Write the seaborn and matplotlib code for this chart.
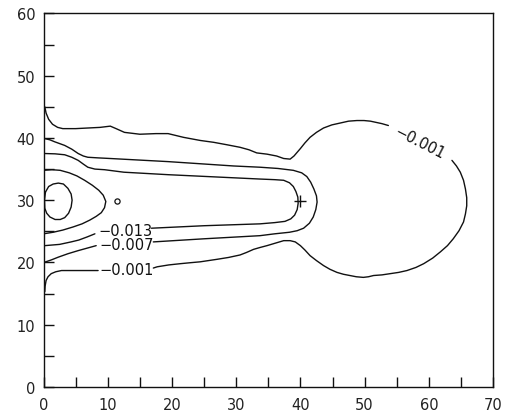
import numpy as np
import pandas as pd
import matplotlib
matplotlib.use("Agg")
import matplotlib.pyplot as plt
import seaborn as sns

# ---- contour segments (x, y in data units) ----
# level -0.001 (outer), split at its two labels
c001_top_x = [0.2, 0.4, 0.8, 1.4, 2.2, 3.0, 5.0, 6.9, 8.8, 10.4, 11.3, 12.6, 15.0, 17.5, 19.4, 21.8, 24.4, 26.5, 28.6, 30.6, 32.0, 33.2, 34.8, 36.3, 37.4, 38.4,
              39.0, 39.5, 40.0, 40.7, 41.5, 42.5, 43.6, 44.9, 46.2, 47.5, 48.8, 49.9, 50.9, 51.8, 52.7, 53.7]
c001_top_y = [45.0, 44.0, 43.0, 42.2, 41.7, 41.5, 41.5, 41.6, 41.7, 41.9, 41.5, 40.9, 40.6, 40.7, 40.7, 40.1, 39.6, 39.3, 38.9, 38.5, 38.1, 37.6, 37.4, 37.1, 36.7, 36.6,
              37.1, 37.7, 38.3, 39.2, 40.1, 40.9, 41.6, 42.1, 42.4, 42.7, 42.8, 42.8, 42.7, 42.5, 42.3, 42.0]
c001_right_x = [63.6, 64.3, 64.9, 65.4, 65.7, 65.9, 65.9, 65.7, 65.4, 64.7, 63.8, 62.9, 61.8, 60.6, 59.2, 58.0, 56.6, 55.3, 54.0, 52.7, 51.4, 50.6, 49.8, 48.7,
                47.7, 46.7, 45.7, 44.6, 43.6, 42.5, 41.5, 40.7, 40.0, 39.2, 38.4, 37.4, 36.1, 34.8, 33.7, 32.7, 31.6, 30.6, 28.8, 27.0, 25.7, 24.4, 22.8,
                21.3, 19.5, 17.7, 17.1]
c001_right_y = [36.4, 35.5, 34.5, 33.2, 31.8, 30.4, 29.1, 27.8, 26.5, 25.1, 23.8, 22.7, 21.7, 20.7, 19.8, 19.2, 18.7, 18.4, 18.2, 18.0, 17.9, 17.7, 17.6, 17.7,
                17.9, 18.1, 18.4, 18.9, 19.5, 20.3, 21.1, 22.0, 22.7, 23.3, 23.5, 23.5, 23.1, 22.7, 22.4, 22.1, 21.6, 21.2, 20.8, 20.5, 20.3, 20.1, 19.95,
                19.8, 19.6, 19.3, 19.1]
c001_left_x = [8.5, 5.0, 2.8, 1.9, 1.2, 0.7, 0.4, 0.25, 0.2]
c001_left_y = [18.7, 18.7, 18.7, 18.5, 18.2, 17.7, 17.1, 16.2, 15.3]

# level -0.007
c007_main_x = [0.2, 1.0, 1.7, 2.5, 3.3, 4.4, 5.4, 6.2, 6.9, 8.5, 10.4, 19.4, 29.6, 33.7, 36.5, 38.9, 40.2, 41.0, 41.6, 42.1, 42.5, 42.6,
               42.4, 42.0, 41.4, 40.5, 39.5, 38.3, 36.0, 33.7, 25.0, 17.1]
c007_main_y = [39.9, 39.7, 39.4, 39.1, 38.8, 38.2, 37.5, 37.1, 36.9, 36.8, 36.7, 36.2, 35.5, 35.3, 35.1, 34.8, 34.4, 33.8, 32.9, 31.8, 30.7, 29.7,
               28.5, 27.3, 26.3, 25.5, 25.1, 24.85, 24.6, 24.3, 23.8, 23.3]
c007_left_x = [8.2, 6.8, 5.4, 3.8, 2.3, 1.2, 0.2]
c007_left_y = [22.7, 22.3, 21.9, 21.4, 20.85, 20.4, 20.05]

# level -0.013
c013_main_x = [0.2, 1.8, 3.3, 4.4, 5.4, 6.2, 6.9, 8.0, 9.5, 12.5, 19.4, 33.7, 36.0, 37.4, 38.3, 38.9, 39.3, 39.6, 39.65, 39.5, 39.1, 38.5, 37.6,
               36.0, 33.7, 25.0, 16.8]
c013_main_y = [37.5, 37.45, 37.3, 36.9, 36.4, 35.8, 35.3, 35.0, 34.9, 34.5, 34.1, 33.4, 33.3, 33.2, 32.8, 32.2, 31.4, 30.5, 29.5, 28.5, 27.6, 27.0, 26.6,
               26.4, 26.2, 25.9, 25.5]
c013_left_x = [8.0, 6.8, 5.5, 4.3, 2.5, 0.2]
c013_left_y = [24.6, 24.1, 23.6, 23.3, 22.9, 22.7]

# unlabeled inner levels
nose_x = [0.0, 1.3, 2.6, 4.0, 5.2, 6.4, 7.6, 8.6, 9.3, 9.7, 9.5, 9.0, 8.2, 7.2, 6.0, 4.6, 3.0, 1.5, 0.0]
nose_y = [34.8, 34.9, 34.8, 34.4, 33.9, 33.2, 32.4, 31.6, 30.8, 29.8, 28.8, 28.0, 27.4, 26.8, 26.2, 25.7, 25.2, 24.85, 24.6]
core_x = [0.3, 0.8, 1.5, 2.3, 3.1, 3.8, 4.3, 4.45, 4.3, 3.9, 3.3, 2.6, 1.8, 1.0, 0.5, 0.2, 0.15, 0.3]
core_y = [31.3, 32.2, 32.6, 32.75, 32.6, 31.9, 31.0, 30.0, 28.9, 27.9, 27.2, 26.9, 26.9, 27.3, 27.9, 28.7, 30.0, 31.3]

# markers
plus_x, plus_y = [40.0], [29.8]
circ_x, circ_y = [11.4], [29.9]

# contour labels
label_text = ["\u22120.013", "\u22120.007", "\u22120.001", "\u22120.001"]
label_x = [12.7, 12.9, 12.9, 58.5]
label_y = [25.2, 22.9, 18.9, 39.3]
label_rot = [0, 0, 0, -27]

segments = {
    "a1": (c001_top_x, c001_top_y),
    "a2": (c001_right_x, c001_right_y),
    "a3": (c001_left_x, c001_left_y),
    "b1": (c007_main_x, c007_main_y),
    "b2": (c007_left_x, c007_left_y),
    "c1": (c013_main_x, c013_main_y),
    "c2": (c013_left_x, c013_left_y),
    "d": (nose_x, nose_y),
    "e": (core_x, core_y),
}
rows = []
for name, (xs, ys) in segments.items():
    for i, (x, y) in enumerate(zip(xs, ys)):
        rows.append({"seg": name, "order": i, "x": x, "y": y})
df = pd.DataFrame(rows)

sns.set_style("ticks")
plt.rcParams["font.family"] = ["DejaVu Sans"]

fig = plt.figure(figsize=(5.12, 4.14), dpi=100)
ax = fig.add_axes([0.085, 0.063, 0.878, 0.902])

sns.lineplot(data=df, x="x", y="y", units="seg", estimator=None, sort=False,
             color="#111111", linewidth=1.0, ax=ax, legend=False,
             solid_joinstyle="round", solid_capstyle="round")
sns.scatterplot(x=plus_x, y=plus_y, marker="+", s=70, color="#111111",
                linewidth=1.0, ax=ax, legend=False)
sns.scatterplot(x=circ_x, y=circ_y, marker="o", s=14, facecolor="white",
                edgecolor="#111111", linewidth=0.9, ax=ax, legend=False)

for t, x, y, r in zip(label_text, label_x, label_y, label_rot):
    ax.text(x, y, t, fontsize=10.5, rotation=r, ha="center", va="center",
            color="#111111", rotation_mode="anchor")

ax.set_xlim(0, 70)
ax.set_ylim(0, 60)
ax.set_xticks(np.arange(0, 71, 10))
ax.set_yticks(np.arange(0, 61, 10))
ax.set_xticks(np.arange(0, 71, 5), minor=True)
ax.set_yticks(np.arange(0, 61, 5), minor=True)
ax.tick_params(which="both", direction="in", length=7, width=1.0, color="#111111",
               labelsize=10.5, labelcolor="#222222", top=False, right=False)
ax.tick_params(axis="x", which="major", pad=7)
ax.tick_params(axis="y", which="major", pad=6)
ax.set_xlabel("")
ax.set_ylabel("")
for s in ax.spines.values():
    s.set_visible(True)
    s.set_linewidth(1.0)
    s.set_color("#111111")

fig.savefig("out.png", dpi=100)
